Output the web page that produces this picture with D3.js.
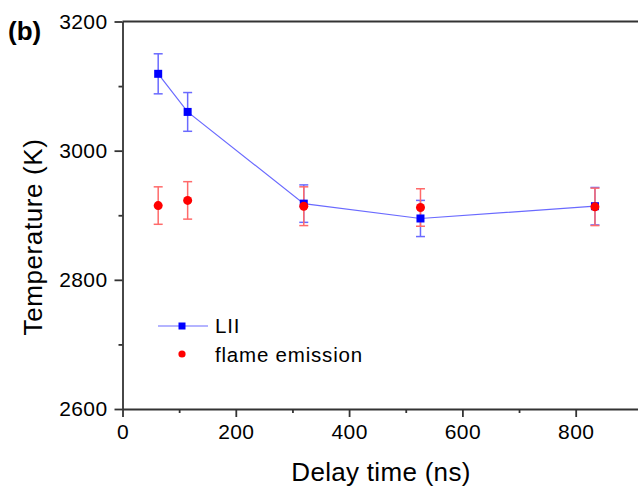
<!DOCTYPE html>
<html>
<head>
<meta charset="utf-8">
<script src="https://cdn.jsdelivr.net/npm/d3@7"></script>
<style>
  body { margin: 0; background: #fff; }
  svg { display: block; font-family: Arial, "Liberation Sans", sans-serif; }
</style>
</head>
<body>
<div id="wrapper"></div>
<script>
// Delay times (ns) and temperatures (K)
const delayLII = [63, 115, 320, 526, 834]
const tempLII = [3119, 3060, 2918, 2895, 2914]
const errLII = [31, 30, 29, 28, 29]

const delayFlame = [63, 115, 320, 526, 834]
const tempFlame = [2915, 2923, 2914, 2912, 2913]
const errFlame = [29, 29, 30, 29, 29]

const xMajorTicks = [0, 200, 400, 600, 800]
const xMinorTicks = [100, 300, 500, 700]
const yMajorTicks = [2600, 2800, 3000, 3200]
const yMinorTicks = [2700, 2900, 3100]

const seriesNames = ["LII", "flame emission"]

function drawChart() {
    const width = 638
    const height = 486

    const svg = d3.select("#wrapper")
        .append("svg")
        .attr("width", width)
        .attr("height", height)

    // scales (plot box is cut off on the right side in the original)
    const xScale = d3.scaleLinear()
        .domain([0, 910])
        .range([122.5, 638])

    const yScale = d3.scaleLinear()
        .domain([2600, 3200])
        .range([409, 21.5])

    const axisColor = "#333"

    // top frame line
    svg.append("line")
        .attr("x1", xScale(0)).attr("x2", width)
        .attr("y1", yScale(3200)).attr("y2", yScale(3200))
        .attr("stroke", axisColor)
        .attr("stroke-width", 1.8)

    // y axis
    svg.append("g")
        .attr("transform", `translate(${xScale(0)},0)`)
        .call(d3.axisLeft(yScale)
            .tickValues(yMajorTicks)
            .tickFormat(d3.format("d"))
            .tickSize(8)
            .tickSizeOuter(0)
            .tickPadding(7))
    svg.append("g")
        .attr("transform", `translate(${xScale(0)},0)`)
        .call(d3.axisLeft(yScale)
            .tickValues(yMinorTicks)
            .tickFormat("")
            .tickSize(4)
            .tickSizeOuter(0))
        .select(".domain").remove()

    // x axis
    svg.append("g")
        .attr("transform", `translate(0,${yScale(2600)})`)
        .call(d3.axisBottom(xScale)
            .tickValues(xMajorTicks)
            .tickSize(8)
            .tickSizeOuter(0)
            .tickPadding(7))
    svg.append("g")
        .attr("transform", `translate(0,${yScale(2600)})`)
        .call(d3.axisBottom(xScale)
            .tickValues(xMinorTicks)
            .tickFormat("")
            .tickSize(4)
            .tickSizeOuter(0))
        .select(".domain").remove()

    svg.selectAll(".tick line, .domain")
        .attr("stroke", axisColor)
        .attr("stroke-width", 1.8)
    svg.selectAll(".tick text")
        .attr("fill", "#000")
        .style("font-size", "21px")
        .style("letter-spacing", "0.4px")

    // axis titles
    svg.append("text")
        .attr("x", 381)
        .attr("y", 481)
        .attr("text-anchor", "middle")
        .style("font-size", "26px")
        .style("letter-spacing", "0.3px")
        .attr("fill", "#000")
        .text("Delay time (ns)")

    svg.append("text")
        .attr("transform", "translate(42,237) rotate(-90)")
        .attr("text-anchor", "middle")
        .style("font-size", "26px")
        .style("letter-spacing", "0.6px")
        .attr("fill", "#000")
        .text("Temperature (K)")

    svg.append("text")
        .attr("x", 8)
        .attr("y", 40)
        .style("font-size", "26px")
        .style("font-weight", "bold")
        .attr("fill", "#000")
        .text("(b)")

    const blue = "#0000ff"
    const blueLight = "#6a6aff"
    const red = "#ff0000"
    const redLight = "#ff6a6a"
    const capW = 4.5

    const lii = delayLII.map((d, i) => ({x: d, y: tempLII[i], e: errLII[i]}))
    const flame = delayFlame.map((d, i) => ({x: d, y: tempFlame[i], e: errFlame[i]}))

    // LII connecting line
    const lineGenerator = d3.line()
        .x(d => xScale(d.x))
        .y(d => yScale(d.y))
    svg.append("path")
        .attr("d", lineGenerator(lii))
        .attr("fill", "none")
        .attr("stroke", blueLight)
        .attr("stroke-width", 1.2)

    // error bars
    function drawErrors(data, color) {
        const g = svg.append("g")
            .attr("stroke", color)
            .attr("stroke-width", 1.5)
        g.selectAll(".stem").data(data).join("line")
            .attr("x1", d => xScale(d.x)).attr("x2", d => xScale(d.x))
            .attr("y1", d => yScale(d.y + d.e)).attr("y2", d => yScale(d.y - d.e))
        g.selectAll(".capTop").data(data).join("line")
            .attr("x1", d => xScale(d.x) - capW).attr("x2", d => xScale(d.x) + capW)
            .attr("y1", d => yScale(d.y + d.e)).attr("y2", d => yScale(d.y + d.e))
        g.selectAll(".capBot").data(data).join("line")
            .attr("x1", d => xScale(d.x) - capW).attr("x2", d => xScale(d.x) + capW)
            .attr("y1", d => yScale(d.y - d.e)).attr("y2", d => yScale(d.y - d.e))
    }
    drawErrors(lii, blueLight)
    drawErrors(flame, redLight)

    // markers
    const sq = 8
    svg.append("g").selectAll("rect").data(lii).join("rect")
        .attr("x", d => xScale(d.x) - sq / 2)
        .attr("y", d => yScale(d.y) - sq / 2)
        .attr("width", sq)
        .attr("height", sq)
        .attr("fill", blue)

    svg.append("g").selectAll("circle").data(flame).join("circle")
        .attr("cx", d => xScale(d.x))
        .attr("cy", d => yScale(d.y))
        .attr("r", 4.5)
        .attr("fill", red)

    // legend
    const legend = svg.append("g").attr("transform", "translate(182,0)")
    legend.append("line")
        .attr("x1", -24).attr("x2", 26)
        .attr("y1", 326).attr("y2", 326)
        .attr("stroke", blueLight)
        .attr("stroke-width", 1.2)
    legend.append("rect")
        .attr("x", -3.5).attr("y", 322.5)
        .attr("width", 7).attr("height", 7)
        .attr("fill", blue)
    legend.append("circle")
        .attr("cx", 0).attr("cy", 354)
        .attr("r", 3.6)
        .attr("fill", red)

    legend.selectAll("text.label").data(seriesNames).join("text")
        .attr("x", 33)
        .attr("y", (d, i) => 333 + i * 28.5)
        .style("font-size", "20.5px")
        .style("letter-spacing", "0.8px")
        .attr("fill", "#000")
        .text(d => d)
}

drawChart()
</script>
</body>
</html>
